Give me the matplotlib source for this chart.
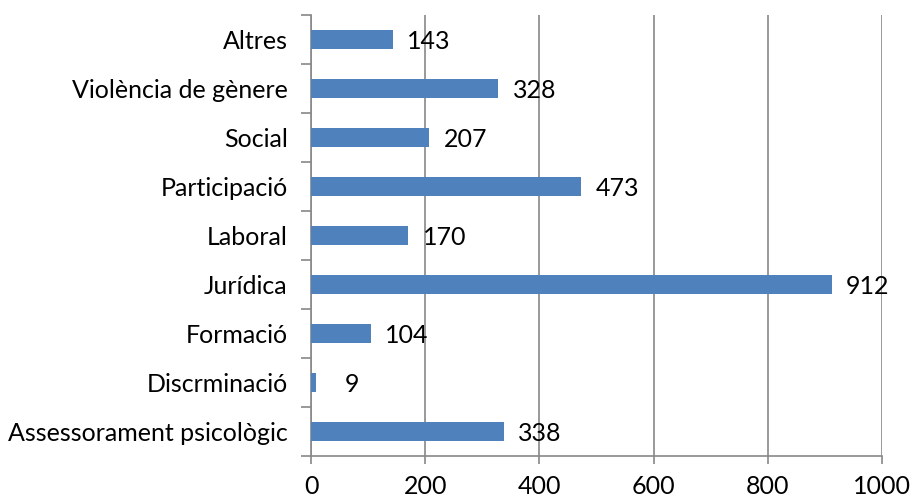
import matplotlib
matplotlib.use("Agg")
import matplotlib.pyplot as plt
import numpy as np

categories = ["Assessorament psicològic", "Discrminació", "Formació", "Jurídica",
              "Laboral", "Participació", "Social", "Violència de gènere", "Altres"]
values = [338, 9, 104, 912, 170, 473, 207, 328, 143]
x_ticks = [0, 200, 400, 600, 800, 1000]

plt.rcParams['font.family'] = ['Lato', 'DejaVu Sans']

fig = plt.figure(figsize=(9.1, 5), dpi=100)
ax = fig.add_axes([0.342, 0.088, 0.627, 0.882])

y = np.arange(len(categories))
ax.barh(y, values, height=0.4, color="#4F81BD", zorder=3)

# data labels sit a fixed distance right of each bar end
for yi, v in zip(y, values):
    ax.annotate(str(v), (v, yi), xytext=(26, -1.5), textcoords="offset points",
                ha="center", va="center", fontsize=18, zorder=4)

ax.set_xlim(0, 1000)
ax.set_ylim(-0.5, len(categories) - 0.5)
ax.set_xticks(x_ticks)
ax.set_xticklabels([str(t) for t in x_ticks], fontsize=18)
ax.set_yticks(y)
ax.set_yticklabels(categories, fontsize=18)
ax.tick_params(axis="y", length=0, pad=17)
ax.set_yticks(np.arange(-0.5, len(categories)), minor=True)
ax.tick_params(axis="y", which="minor", length=7, color="#888888", width=1.2)
ax.tick_params(axis="x", length=6, color="#888888", width=1.2, pad=8)

ax.grid(axis="x", color="#888888", linewidth=1.2, zorder=0)
for s in ["top", "right"]:
    ax.spines[s].set_visible(False)
for s in ["left", "bottom"]:
    ax.spines[s].set_color("#888888")
    ax.spines[s].set_linewidth(1.2)

fig.savefig("out.png", dpi=100)
